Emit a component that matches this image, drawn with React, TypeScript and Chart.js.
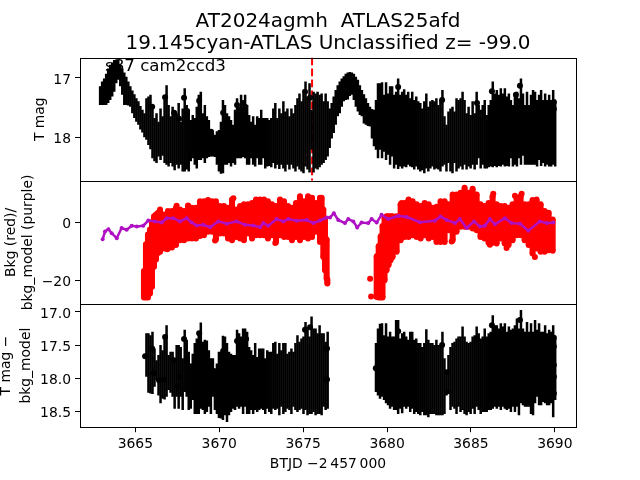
import React, { useEffect, useRef } from "react";
import { Chart, registerables } from "chart.js";

Chart.register(...registerables);

const titleLines = ["AT2024agmh  ATLAS25afd", "19.145cyan-ATLAS Unclassified z= -99.0"];
const sectorLabel = "s87 cam2ccd3";
const xTicks = [3665, 3670, 3675, 3680, 3685, 3690];
const magTicks = [17, 18];
const bkgTicks = [0, -20];
const detrendTicks = [17, 17.5, 18, 18.5];
const discoveryTime = 3675.53;

const cadenceTimes = [
3662.90,3663.02,3663.14,3663.26,3663.38,3663.50,3663.62,3663.74,3663.86,3663.98,3664.10,3664.22,3664.34,3664.46,3664.58,3664.70,3664.82,3664.94,3665.06,3665.18,3665.30,3665.42,3665.54,3665.66,3665.78,
3665.90,3666.02,3666.14,3666.26,3666.38,3666.50,3666.62,3666.74,3666.86,3666.98,3667.10,3667.22,3667.34,3667.46,3667.58,3667.70,3667.82,3667.94,3668.06,3668.18,3668.30,3668.42,3668.54,3668.66,3668.78,
3668.90,3669.02,3669.14,3669.26,3669.38,3669.50,3669.62,3669.74,3669.86,3669.98,3670.10,3670.22,3670.34,3670.46,3670.58,3670.70,3670.82,3670.94,3671.06,3671.18,3671.30,3671.42,3671.54,3671.66,3671.78,
3671.90,3672.02,3672.14,3672.26,3672.38,3672.50,3672.62,3672.74,3672.86,3672.98,3673.10,3673.22,3673.34,3673.46,3673.58,3673.70,3673.82,3673.94,3674.06,3674.18,3674.30,3674.42,3674.54,3674.66,3674.78,
3674.90,3675.02,3675.14,3675.26,3675.38,3675.50,3675.62,3675.74,3675.86,3675.98,3676.10,3676.22,3676.34,3676.46,3676.58,3676.70,3676.82,3676.94,3677.06,3677.18,3677.30,3677.42,3677.54,3677.66,3677.78,
3677.90,3678.02,3678.14,3678.26,3678.38,3678.50,3678.62,3678.74,3678.86,3678.98,3679.10,3679.22,3679.34,3679.46,3679.58,3679.70,3679.82,3679.94,3680.06,3680.18,3680.30,3680.42,3680.54,3680.66,3680.78,
3680.90,3681.02,3681.14,3681.26,3681.38,3681.50,3681.62,3681.74,3681.86,3681.98,3682.10,3682.22,3682.34,3682.46,3682.58,3682.70,3682.82,3682.94,3683.06,3683.18,3683.30,3683.42,3683.54,3683.66,3683.78,
3683.90,3684.02,3684.14,3684.26,3684.38,3684.50,3684.62,3684.74,3684.86,3684.98,3685.10,3685.22,3685.34,3685.46,3685.58,3685.70,3685.82,3685.94,3686.06,3686.18,3686.30,3686.42,3686.54,3686.66,3686.78,
3686.90,3687.02,3687.14,3687.26,3687.38,3687.50,3687.62,3687.74,3687.86,3687.98,3688.10,3688.22,3688.34,3688.46,3688.58,3688.70,3688.82,3688.94,3689.06,3689.18,3689.30,3689.42,3689.54,3689.66,3689.78,
3689.90,3690.02];

const magBright = [
17.14,17.06,17.01,16.93,16.84,16.78,16.74,16.70,16.69,16.70,16.78,16.84,16.91,16.98,17.06,17.14,17.21,17.27,17.34,17.39,17.47,17.53,17.59,
17.34,17.31,17.28,17.48,17.67,17.59,17.73,17.51,17.64,17.37,17.12,17.45,17.64,17.48,17.56,17.59,17.42,17.73,17.51,17.17,
17.45,17.53,17.70,17.62,17.67,17.48,17.28,17.23,17.59,17.45,17.64,17.70,17.87,17.92,17.98,17.89,17.87,17.73,17.37,17.45,
17.59,17.64,17.70,17.78,17.53,17.34,17.48,17.28,17.48,17.28,17.45,17.62,17.73,17.64,17.78,17.64,17.67,17.53,17.67,17.67,
17.67,17.70,17.67,17.51,17.42,17.67,17.51,17.59,17.39,17.56,17.51,17.64,17.51,17.59,17.45,17.34,17.26,17.39,17.26,17.06,
17.31,17.09,17.53,17.23,17.26,17.23,17.28,17.26,17.39,17.26,17.39,
17.51,17.42,17.31,17.20,17.12,17.06,17.01,16.97,16.93,16.91,16.90,16.91,16.93,16.98,17.03,17.12,17.20,17.27,17.34,17.42,17.48,17.52,17.53,17.37,
17.09,17.09,17.07,17.28,17.07,17.26,17.14,17.14,17.28,17.23,17.01,17.28,17.23,17.19,17.28,17.23,17.34,17.23,17.37,17.31,17.39,17.42,17.51,17.39,17.26,17.48,17.39,17.37,17.39,17.34,17.45,17.37,17.20,17.64,17.78,17.56,17.51,17.48,17.56,17.34,17.37,17.34,17.23,17.37,17.59,17.48,17.62,17.39,17.59,17.23,17.45,17.53,17.45,17.37,17.62,17.45,17.37,17.06,17.26,17.20,17.28,17.17,17.26,17.17,17.31,17.26,17.37,17.45,17.26,17.23,17.34,17.01,17.26,17.45,17.23,17.45,17.28,17.20,17.23,17.37,17.28,17.20,17.37,17.26,17.37,17.28,17.37,17.20,17.39];

const magFaint = [
17.45,17.45,17.45,17.45,17.42,17.37,17.31,17.23,17.09,17.03,17.14,17.28,17.45,17.45,17.46,17.48,17.59,17.67,17.73,17.78,17.86,17.91,17.99,
18.03,18.12,18.19,18.34,18.39,18.42,18.31,18.37,18.30,18.42,18.45,18.48,18.42,18.48,18.54,18.45,18.51,18.45,18.56,18.56,
18.53,18.56,18.39,18.34,18.45,18.51,18.37,18.37,18.34,18.42,18.34,18.32,18.31,18.31,18.32,18.45,18.56,18.60,18.59,18.45,
18.45,18.42,18.48,18.42,18.45,18.34,18.34,18.34,18.32,18.34,18.45,18.45,18.34,18.45,18.48,18.34,18.45,18.45,18.34,18.51,
18.48,18.47,18.49,18.42,18.51,18.45,18.52,18.45,18.51,18.56,18.45,18.53,18.45,18.51,18.56,18.48,18.53,18.56,18.59,18.48,
18.53,18.58,18.20,18.58,18.51,18.53,18.49,18.45,18.42,18.37,18.31,
18.17,18.01,17.92,17.78,17.64,17.59,17.48,17.39,17.37,17.36,17.30,17.28,17.37,17.48,17.56,17.62,17.64,17.76,17.78,17.80,17.81,18.01,18.14,18.20,
18.34,18.20,18.34,18.23,18.37,18.28,18.45,18.31,18.51,18.45,18.52,18.48,18.51,18.48,18.49,18.45,18.48,18.49,18.53,18.48,18.53,18.56,18.54,18.59,18.51,18.56,18.51,18.48,18.53,18.51,18.53,18.56,18.48,18.45,18.56,18.42,18.56,18.59,18.42,18.56,18.51,18.48,18.53,18.45,18.53,18.48,18.51,18.45,18.53,18.45,18.34,18.51,18.45,18.51,18.51,18.49,18.48,18.49,18.47,18.49,18.47,18.48,18.45,18.48,18.47,18.48,18.34,18.48,18.45,18.48,18.34,18.45,18.30,18.45,18.45,18.45,18.45,18.45,18.45,18.48,18.37,18.47,18.42,18.48,18.45,18.48,18.48,18.45,18.48];

const magDotTimes = [3666.77,3667.90,3668.80,3666.00,3667.31,3668.08,3667.60,3670.23,3671.06,3671.54,3671.42,3675.11,3675.41,3669.51,3669.75,3680.66,3683.28,3685.36,3686.25,3687.92,3687.68,3689.94,3689.94];
const magDots = [17.32,17.33,17.38,17.48,17.58,17.55,17.68,17.58,17.45,17.48,17.42,17.23,17.33,17.90,18.00,17.15,17.37,17.42,17.22,17.13,17.28,17.40,17.52];

const bkgTimesA = [3665.51,3665.63,3665.75,3665.87,3665.99,3666.11,3666.23,3666.35,3666.47,3666.71,3666.94,3667.18,3667.42,3667.66,3667.90,3668.14,3668.37,3668.61,3668.85,3669.09,3669.33,3669.57,3669.80,3670.04,3670.28,3670.52,3670.76,3671.00,3671.24,3671.47,3671.71,3671.95,3672.19,3672.43,3672.67,3672.90,3673.14,3673.38,3673.62,3673.86,3674.10,3674.33,3674.57,3674.81,3675.05,3675.29,3675.53,3675.76,3676.00,3676.10,3676.20,3676.30,3676.40,3676.44];
const bkgHighA = [-15.6,-6.4,-3,-1.3,1.3,3.3,3.9,4.5,5.6,3.9,5.1,5.1,6.2,5.6,5.1,7,6.2,6.2,8.5,8.5,8.9,8.5,8.5,6.8,6.8,6.2,9.1,5.6,6.8,7.4,7.4,7.9,9.1,9.1,9.1,8.5,7.4,6.8,9.1,8.5,6.8,6.2,7.9,10.2,8.5,10.2,9.7,7.9,9.7,9.7,5.6,2.2,-4.7,-18.5];
const bkgLowA = [-26.8,-26.8,-26.8,-25.4,-23.1,-16.2,-13.7,-11.4,-11,-9.9,-9.9,-9.5,-8.7,-7,-7,-6.4,-6.4,-6.4,-5.6,-5.3,-4.1,-4.1,-6.8,-4.7,-4.7,-6.4,-7,-5.9,-6.4,-7,-4.7,-6.4,-5.3,-5.3,-5.3,-6.4,-5.3,-7.6,-5.3,-5.9,-5.9,-7,-5.9,-7,-5.9,-6.4,-5.9,-4.1,-7.6,-7,-12.8,-17.4,-20.2,-22];
const bkgTimesB = [3679.38,3679.50,3679.62,3679.73,3679.85,3679.97,3680.09,3680.21,3680.33,3680.57,3680.81,3681.05,3681.28,3681.52,3681.76,3682.00,3682.24,3682.48,3682.71,3682.95,3683.19,3683.43,3683.67,3683.91,3684.14,3684.38,3684.62,3684.86,3685.10,3685.34,3685.57,3685.81,3686.05,3686.29,3686.53,3686.77,3687.01,3687.24,3687.48,3687.72,3687.96,3688.20,3688.44,3688.67,3688.91,3689.15,3689.39,3689.63,3689.87];
const bkgHighB = [-10.5,-7,-3.6,-0.1,2.8,3.3,3.3,3.3,3.3,3.3,7.4,7.9,9.1,8.5,7.4,6.8,7.9,7.4,6.2,6.6,8.5,8.5,7.4,10.8,10.8,11.4,13.1,11.4,12.8,10.8,7.4,6.8,7.9,10.2,7.4,6.8,6.8,6.2,7.4,9.7,10.2,7.4,7.4,8.9,9.1,7.4,5.1,4.5,2.2];
const bkgLowB = [-26.6,-26.8,-26.8,-26.8,-20.8,-17.4,-15.6,-13.9,-12.8,-11,-7,-5.9,-5.9,-5.3,-5.9,-6.4,-5.3,-6.4,-5.9,-7.6,-7.6,-7.6,-3.6,-7,-4.1,-2.4,-2.4,-2.4,-3,-3.6,-5.9,-6.4,-7.9,-7.9,-8.2,-6.4,-8.2,-8.7,-7,-5.3,-5.3,-7,-8.7,-11.6,-9.9,-11,-11,-10.5,-10.7];
const bkgDotTimes = [3678.99,3679.05,3666.90,3669.75,3673.34,3665.97,3670.84,3667.46,3688.81,3683.85,3688.02,3687.62,3686.33,3680.87,3687.12,3686.13];
const bkgDots = [-19.3,-25.4,-9.1,-6.1,-7,-22,8.5,5.9,-11.8,-6.4,10,9.3,10,6.8,-8.7,-7.6];

const modelTimes = [3663.05,3663.19,3663.39,3663.59,3663.89,3664.18,3664.48,3664.78,3665.08,3665.47,3665.77,3666.17,3666.57,3666.86,3667.26,3667.66,3668.06,3668.35,3668.65,3669.05,3669.45,3669.94,3670.44,3671.04,3671.53,3672.03,3672.43,3672.63,3672.92,3673.42,3673.82,3674.12,3674.61,3675.21,3675.61,3676.00,3676.40,3676.60,3676.83,3677.09,3677.49,3677.69,3677.99,3678.22,3678.48,3678.88,3679.08,3679.38,3679.67,3680.07,3680.67,3681.16,3681.96,3682.85,3683.19,3683.55,3684.05,3684.34,3684.74,3685.18,3685.54,3685.83,3686.13,3686.43,3687.02,3687.42,3687.92,3688.42,3689.11,3689.51,3689.91];
const modelValues = [-5.7,-3,-2.2,-3.6,-5.3,-1.8,-2.4,-1,-1.3,-1,0.8,0.5,0.1,1.6,1.6,0.5,1.6,0.1,-0.9,-0.7,-1.5,0.5,-0.3,0.5,-0.7,-0.9,-1.5,-0.1,-1,1.3,0.5,1.3,0.7,1,-0.1,0.8,1.8,1.8,3.3,1,-0.1,1.3,0.5,-1.6,0.1,-0.1,1.3,0.1,2.8,1.3,2.4,2,0.2,0.7,2.2,1,-0.1,1.3,-1.8,0.5,-1.3,-1,1.3,-0.5,1.6,-0.1,-0.3,-2.7,0.5,-0.1,0.1];

const detrendBrightA = [17.32,17.32,17.35,17.30,17.55,17.73,17.65,17.50,17.58,17.35,17.20,17.65,17.60,17.60,17.70,17.50,17.50,17.53,17.70,17.27,17.42,17.60,17.78,17.63,17.47,17.40,17.32,17.16,17.45,17.42,17.43,17.58,17.70,17.70,17.88,17.78,17.60,17.60,17.36,17.37,17.47,17.60,17.63,17.65,17.65,17.27,17.32,17.37,17.25,17.25,17.30,17.53,17.58,17.65,17.47,17.68,17.55,17.55,17.55,17.70,17.58,17.60,17.60,17.47,17.45,17.63,17.47,17.58,17.47,17.47,17.63,17.60,17.55,17.60,17.47,17.35,17.45,17.40,17.37,17.15,17.25,17.37,17.07,17.25,17.25,17.32,17.20,17.32,17.32,17.45,17.30];
const detrendFaintA = [17.98,18.22,18.23,18.24,18.13,18.03,18.26,18.38,18.31,18.32,18.28,18.18,18.22,18.28,18.46,18.28,18.46,18.28,18.48,18.21,18.28,18.48,18.46,18.33,18.54,18.54,18.54,18.46,18.48,18.54,18.51,18.43,18.54,18.28,18.48,18.54,18.60,18.61,18.63,18.56,18.66,18.56,18.51,18.46,18.48,18.43,18.46,18.43,18.54,18.43,18.54,18.54,18.48,18.54,18.48,18.51,18.48,18.46,18.48,18.54,18.46,18.51,18.54,18.46,18.48,18.46,18.56,18.43,18.54,18.51,18.46,18.48,18.54,18.43,18.48,18.51,18.48,18.46,18.54,18.48,18.56,18.54,18.54,18.51,18.56,18.54,18.54,18.56,18.43,18.48,18.46];
const detrendBrightB = [17.47,17.25,17.18,17.17,17.35,17.17,17.37,17.30,17.37,17.37,17.12,17.12,17.40,17.32,17.30,17.37,17.42,17.30,17.30,17.42,17.40,17.47,17.47,17.53,17.47,17.26,17.42,17.47,17.47,17.50,17.42,17.50,17.50,17.30,17.70,17.90,17.65,17.53,17.47,17.45,17.40,17.37,17.37,17.22,17.37,17.45,17.47,17.45,17.37,17.35,17.22,17.32,17.40,17.37,17.25,17.37,17.32,17.30,17.05,17.20,17.20,17.25,17.17,17.22,17.17,17.30,17.22,17.27,17.25,17.20,17.10,17.25,16.97,17.25,17.30,17.15,17.30,17.17,17.30,17.12,17.27,17.17,17.30,17.30,17.20,17.32,17.27,17.30,17.20,17.40];
const detrendFaintB = [18.21,18.26,18.31,18.28,18.33,18.38,18.41,18.46,18.43,18.48,18.48,18.54,18.46,18.53,18.43,18.46,18.43,18.51,18.46,18.54,18.51,18.54,18.56,18.51,18.56,18.56,18.59,18.54,18.54,18.54,18.56,18.56,18.56,18.56,18.54,18.26,18.23,18.48,18.43,18.46,18.54,18.43,18.51,18.48,18.54,18.56,18.51,18.54,18.46,18.54,18.43,18.48,18.54,18.51,18.51,18.51,18.48,18.48,18.46,18.43,18.46,18.43,18.48,18.43,18.46,18.48,18.46,18.51,18.43,18.51,18.43,18.56,18.38,18.41,18.43,18.43,18.43,18.54,18.56,18.38,18.28,18.41,18.41,18.36,18.38,18.41,18.41,18.38,18.59,18.33];
const detrendDotTimes = [3665.58,3666.00,3666.11,3666.41,3666.77,3666.71,3667.90,3668.80,3668.08,3667.31,3667.60,3667.54,3670.23,3671.06,3671.42,3671.60,3675.11,3675.41,3676.42,3676.42,3669.51,3669.69,3669.63,3679.33,3680.66,3683.28,3685.36,3685.90,3686.25,3687.92,3687.68,3689.94,3689.94,3689.94,3689.94,3689.94,3683.57,3683.57];
const detrendDots = [17.67,17.55,17.92,18.03,17.38,18.02,17.41,17.32,17.71,17.73,17.98,18.12,17.59,17.44,17.42,17.41,17.27,17.23,17.55,18.02,17.76,17.89,18.17,17.85,17.29,17.50,17.41,17.44,17.20,17.12,17.29,17.39,17.52,17.80,17.98,18.23,17.91,18.20];

const FONT = "'DejaVu Sans'";
const RED_DOT_INSET = 1.03;
const ranges = (ts: number[], a: number[], b: number[]) =>
  ts.slice(0, Math.min(a.length, b.length)).map((x, i) => ({ x, y: [a[i], b[i]] }));
const points = (ts: number[], v: number[]) => ts.map((x, i) => ({ x, y: v[i] }));
const shifted = (v: number[], d: number) => v.map((n) => n + d);

const overlay = {
  id: "overlay",
  beforeDatasetsDraw(chart: any) {
    const { ctx } = chart;
    ctx.save();
    ctx.fillStyle = "#000";
    ctx.font = `16.67px ${FONT}`;
    ctx.textBaseline = "alphabetic";
    ctx.fillText(sectorLabel, 105, 71);
    ctx.restore();
  },
  afterDatasetsDraw(chart: any) {
    const { ctx, chartArea: a, scales } = chart;
    ctx.save();
    ctx.strokeStyle = "#000";
    ctx.lineWidth = 1;
    const L = Math.round(a.left) + 0.5, R = Math.round(a.right) + 0.5;
    ctx.strokeRect(L, Math.round(a.top) + 0.5, R - L, Math.round(a.bottom) - Math.round(a.top));
    [scales.yTop.bottom, scales.yMid.bottom].forEach((y: number) => {
      ctx.beginPath();
      ctx.moveTo(L, Math.round(y) + 0.5);
      ctx.lineTo(R, Math.round(y) + 0.5);
      ctx.stroke();
    });
    ctx.restore();
  },
};

const yAxis = (
  min: number, max: number, ticks: number[], reverse: boolean,
  text: string | string[], padTop: number, lineHeight: number, fmt: (v: number) => string,
) => ({
  type: "linear",
  position: "left",
  stack: "panels",
  stackWeight: 1,
  min,
  max,
  reverse,
  border: { display: false },
  grid: { drawOnChartArea: false, drawTicks: true, tickLength: 5, tickColor: "#000", tickWidth: 1 },
  ticks: {
    color: "#000",
    padding: 4,
    font: { family: FONT, size: 13.9, lineHeight: "4px" },
    callback: (v: number) => ["", fmt(v)],
  },
  afterBuildTicks: (s: any) => { s.ticks = ticks.map((value) => ({ value })); },
  afterFit: (s: any) => { s.width = 80; },
  title: { display: true, text, color: "#000", font: { family: FONT, size: 13.9, lineHeight: `${lineHeight}px` }, padding: { top: padTop, bottom: 0 } },
});

export default function App() {
  const ref = useRef<HTMLCanvasElement | null>(null);
  useEffect(() => {
    if (!ref.current) return;
    const errBar = (data: any[], yAxisID: string) => ({
      type: "bar", data, yAxisID, xAxisID: "x", order: 5, grouped: false,
      backgroundColor: "#000", barThickness: 2.5, borderSkipped: false, inflateAmount: 0,
    });
    const redBar = (data: any[]) => ({
      type: "bar", data, yAxisID: "yMid", xAxisID: "x", order: 4, grouped: false,
      backgroundColor: "#ff0000", barThickness: 6, borderSkipped: false, inflateAmount: 0,
    });
    const dots = (data: any[], yAxisID: string, color: string, order: number) => ({
      type: "scatter", data, yAxisID, xAxisID: "x", order,
      backgroundColor: color, borderColor: color, pointRadius: 3, borderWidth: 0,
    });
    const chart = new Chart(ref.current, {
      type: "bar",
      plugins: [overlay],
      data: {
        datasets: [
          {
            type: "line", data: points(modelTimes, modelValues), yAxisID: "yMid", xAxisID: "x", order: 1,
            borderColor: "#b010c4", backgroundColor: "#b010c4", borderWidth: 2.5, pointRadius: 2, pointBorderWidth: 0, tension: 0,
          },
          {
            type: "line", data: [{ x: discoveryTime, y: 16.66 }, { x: discoveryTime, y: 18.717 }],
            yAxisID: "yTop", xAxisID: "x", order: 9, borderColor: "#ff0000", borderWidth: 2, borderDash: [7.7, 3.3], pointRadius: 0,
          },
          errBar(ranges(cadenceTimes, magBright, magFaint), "yTop"),
          dots(points(magDotTimes, magDots), "yTop", "#000", 3),
          redBar(ranges(bkgTimesA, shifted(bkgLowA, RED_DOT_INSET), shifted(bkgHighA, -RED_DOT_INSET))),
          redBar(ranges(bkgTimesB, shifted(bkgLowB, RED_DOT_INSET), shifted(bkgHighB, -RED_DOT_INSET))),
          dots(points(bkgTimesA, shifted(bkgHighA, -RED_DOT_INSET)), "yMid", "#ff0000", 3),
          dots(points(bkgTimesA, shifted(bkgLowA, RED_DOT_INSET)), "yMid", "#ff0000", 3),
          dots(points(bkgTimesB, shifted(bkgHighB, -RED_DOT_INSET)), "yMid", "#ff0000", 3),
          dots(points(bkgTimesB, shifted(bkgLowB, RED_DOT_INSET)), "yMid", "#ff0000", 3),
          dots(points(bkgDotTimes, bkgDots), "yMid", "#ff0000", 3),
          errBar(ranges(cadenceTimes.slice(23), detrendBrightA, detrendFaintA), "yBot"),
          errBar(ranges(cadenceTimes.slice(137), detrendBrightB, detrendFaintB), "yBot"),
          dots(points(detrendDotTimes, detrendDots), "yBot", "#000", 3),
        ] as any,
      },
      options: {
        responsive: false,
        animation: false,
        events: [],
        layout: { padding: { left: 0, right: 64, top: 0, bottom: 0 } },
        plugins: {
          legend: { display: false },
          tooltip: { enabled: false },
          title: {
            display: true,
            fullSize: false,
            text: titleLines,
            color: "#000",
            font: { family: FONT, size: 20, weight: "normal", lineHeight: "22px" },
            padding: { top: 10.5, bottom: 3.1 },
          },
        },
        scales: {
          x: {
            type: "linear",
            position: "bottom",
            min: 3661.7,
            max: 3691.26,
            offset: false,
            border: { display: false },
            grid: { drawOnChartArea: false, drawTicks: true, tickLength: 5, tickColor: "#000", tickWidth: 1, offset: false },
            ticks: { color: "#000", padding: 4, maxRotation: 0, font: { family: FONT, size: 13.9 }, callback: (v: number) => String(v) },
            afterBuildTicks: (s: any) => { s.ticks = xTicks.map((value) => ({ value })); },
            afterFit: (s: any) => { s.height = 52.8; },
            title: { display: true, text: "BTJD \u22122\u2009457\u2009000", color: "#000", font: { family: FONT, size: 13.9, lineHeight: "16px" }, padding: { top: 0, bottom: 8 } },
          },
          yBot: yAxis(16.88, 18.74, detrendTicks, true, ["T mag \u2212", "bkg_model"], -3.5, 20, (v) => v.toFixed(1)),
          yMid: yAxis(-28, 14.5, bkgTicks, false, ["Bkg (red)/", "bkg_model (purple)"], 2.5, 17, (v) => String(v).replace("-", "\u2212")),
          yTop: yAxis(16.66, 18.717, magTicks, true, "T mag", 32, 16, (v) => String(v)),
        } as any,
      },
    } as any);
    return () => chart.destroy();
  }, []);
  return (
    <div style={{ position: "absolute", left: 0, top: 0, width: 640, height: 480 }}>
      <canvas ref={ref} width={640} height={480} style={{ display: "block", width: 640, height: 480 }} />
    </div>
  );
}
